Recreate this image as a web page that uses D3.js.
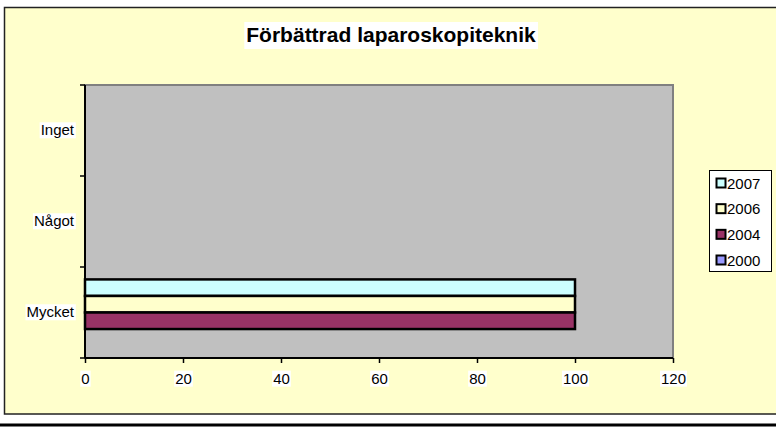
<!DOCTYPE html>
<html>
<head>
<meta charset="utf-8">
<script src="https://cdn.jsdelivr.net/npm/d3@7"></script>
<style>
  body { margin: 0; background: #fff; }
  svg { display: block; font-family: "Liberation Sans", Arial, sans-serif; }
</style>
</head>
<body>
<div id="chart"></div>
<script>
// chart data
const title = "Förbättrad laparoskopiteknik";
const categories = ["Inget", "Något", "Mycket"];
const seriesNames = ["2007", "2006", "2004", "2000"];
const seriesColors = ["#CCFFFF", "#FFFFCC", "#993366", "#9999FF"];
const values2007 = [0, 0, 100];
const values2006 = [0, 0, 100];
const values2004 = [0, 0, 100];
const values2000 = [0, 0, 0];
const xTicks = [0, 20, 40, 60, 80, 100, 120];

const seriesValues = [values2007, values2006, values2004, values2000];

const width = 776, height = 428;
const plot = { left: 85, right: 673, top: 85, bottom: 358 };

const svg = d3.select("#chart").append("svg")
  .attr("width", width)
  .attr("height", height);

// outer chart frame
svg.append("rect")
  .attr("x", 4.5).attr("y", 7.5)
  .attr("width", 780).attr("height", 406.5)
  .attr("fill", "#FFFFCC")
  .attr("stroke", "#222").attr("stroke-width", 1.5);

svg.append("line")
  .attr("x1", 0).attr("x2", width)
  .attr("y1", 425).attr("y2", 425)
  .attr("stroke", "#000").attr("stroke-width", 3);

// scales
const x = d3.scaleLinear().domain([0, 120]).range([plot.left, plot.right]);
const y0 = d3.scaleBand().domain(categories).range([plot.top, plot.bottom]).padding(0);
const y1 = d3.scaleBand().domain(seriesNames).range([0, y0.bandwidth()])
  .paddingInner(0).paddingOuter(0.75);

// plot area
svg.append("rect")
  .attr("x", plot.left).attr("y", plot.top)
  .attr("width", plot.right - plot.left).attr("height", plot.bottom - plot.top)
  .attr("fill", "#C0C0C0")
  .attr("stroke", "#808080").attr("stroke-width", 2);

// bars
const rows = [];
seriesNames.forEach((s, i) => {
  categories.forEach((c, j) => {
    rows.push({ series: s, cat: c, value: seriesValues[i][j], color: seriesColors[i] });
  });
});

svg.append("g").selectAll("rect")
  .data(rows.filter(d => d.value > 0))
  .join("rect")
  .attr("x", x(0))
  .attr("y", d => y0(d.cat) + y1(d.series))
  .attr("width", d => x(d.value) - x(0))
  .attr("height", y1.bandwidth())
  .attr("fill", d => d.color)
  .attr("stroke", "#000").attr("stroke-width", 2.5);

// axes
const xAxis = svg.append("g")
  .attr("transform", `translate(0,${plot.bottom})`)
  .call(d3.axisBottom(x).tickValues(xTicks).tickSize(5).tickPadding(10).tickFormat(d3.format("d")));

const yAxis = svg.append("g")
  .attr("transform", `translate(${plot.left},0)`)
  .call(d3.axisLeft(y0).tickSize(0).tickPadding(11));

// category ticks on band edges
svg.append("g").selectAll("line")
  .data([plot.top, ...categories.map(c => y0(c) + y0.bandwidth())])
  .join("line")
  .attr("x1", plot.left - 5).attr("x2", plot.left)
  .attr("y1", d => d).attr("y2", d => d)
  .attr("stroke", "#000").attr("stroke-width", 1.5);

[xAxis, yAxis].forEach(g => {
  g.select(".domain").attr("stroke", "#000").attr("stroke-width", 2);
  g.selectAll(".tick line").attr("stroke", "#000").attr("stroke-width", 1.5);
  g.selectAll(".tick text")
    .attr("font-size", 15)
    .attr("font-family", "Liberation Sans, Arial, sans-serif")
    .attr("fill", "#000");
});
yAxis.select(".domain").attr("d", `M0,${plot.top}V${plot.bottom}`);
xAxis.select(".domain").attr("d", `M0,0H${plot.right - plot.left}`).attr("transform", `translate(${plot.left},0)`);

// white backgrounds behind tick labels
function whiteBack(sel) {
  sel.each(function () {
    const b = this.getBBox();
    const node = this;
    d3.select(this.parentNode).insert("rect", () => node)
      .attr("x", b.x - 1).attr("y", b.y + 1)
      .attr("width", b.width + 2).attr("height", b.height - 1)
      .attr("fill", "#fff");
  });
}
whiteBack(xAxis.selectAll(".tick text"));
whiteBack(yAxis.selectAll(".tick text"));

// title
const t = svg.append("text")
  .attr("x", 391).attr("y", 42)
  .attr("text-anchor", "middle")
  .attr("font-size", 21)
  .attr("font-weight", "bold")
  .text(title);
const tb = t.node().getBBox();
svg.insert("rect", () => t.node())
  .attr("x", tb.x - 2).attr("y", 22)
  .attr("width", tb.width + 4).attr("height", 27)
  .attr("fill", "#fff");

// legend
const legend = svg.append("g");
legend.append("rect")
  .attr("x", 709.5).attr("y", 170.5)
  .attr("width", 62).attr("height", 101)
  .attr("fill", "#fff").attr("stroke", "#000").attr("stroke-width", 1);

const ly = d3.scalePoint().domain(seriesNames).range([183, 260]);
const item = legend.selectAll("g.item")
  .data(seriesNames)
  .join("g")
  .attr("class", "item")
  .attr("transform", d => `translate(0,${ly(d)})`);
item.append("rect")
  .attr("x", 716.5).attr("y", -4.5)
  .attr("width", 9).attr("height", 9)
  .attr("fill", (d, i) => seriesColors[i])
  .attr("stroke", "#000").attr("stroke-width", 2);
item.append("text")
  .attr("x", 727).attr("y", 5.5)
  .attr("font-size", 15)
  .text(d => d);
</script>
</body>
</html>
